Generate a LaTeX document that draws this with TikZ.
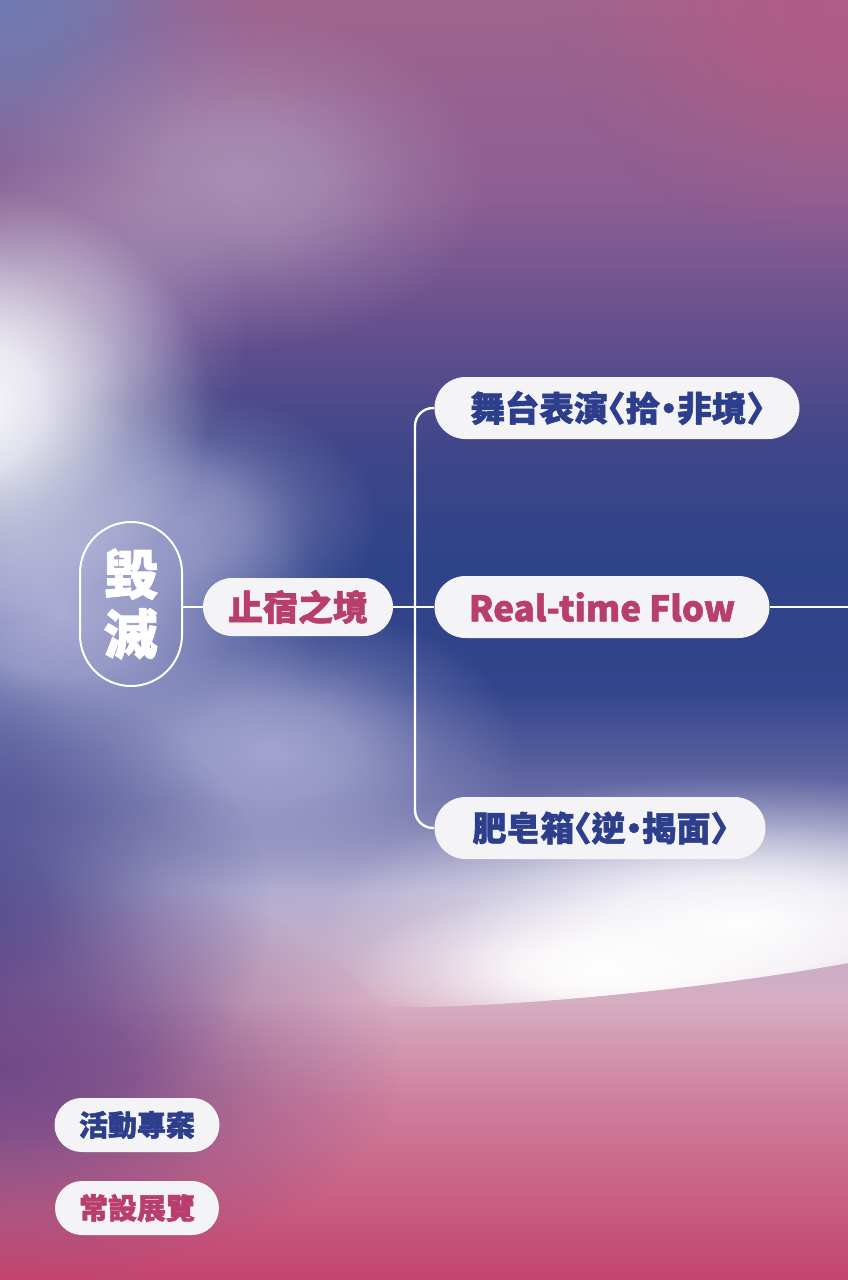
\documentclass[tikz,border=0pt]{standalone}
\usepackage{fontspec}
\newfontfamily\cjk{Noto Sans CJK TC}[RawFeature=+halt, BoldFeatures={FakeBold=1.6}]
\usetikzlibrary{fadings}
\definecolor{navytext}{HTML}{2D3F8C}
\definecolor{rosetext}{HTML}{B83E6E}
\definecolor{pillfill}{HTML}{F4F4F6}
% background tones
\definecolor{bgA}{HTML}{A0648F}
\definecolor{bgB}{HTML}{8C5E92}
\definecolor{bgC}{HTML}{654F8E}
\definecolor{bgD}{HTML}{3E4689}
\definecolor{bgE}{HTML}{2F4389}
\definecolor{bgF}{HTML}{33458C}
\definecolor{bgG}{HTML}{6A6DA6}
\definecolor{bgH}{HTML}{B2AED0}
\definecolor{bgI}{HTML}{D6AEC2}
\definecolor{bgJ}{HTML}{CE7F9C}
\definecolor{bgK}{HTML}{C3446E}
\definecolor{glowpink}{HTML}{B05C86}
\definecolor{glowblue}{HTML}{6E7AB2}
\definecolor{glowlilac}{HTML}{B4A2C2}
\definecolor{glowpale}{HTML}{D8D0E2}
\definecolor{glowlav}{HTML}{ACACD4}
\definecolor{glowdeep}{HTML}{4C4A8E}
\definecolor{glowplum}{HTML}{6C4486}
\pgfdeclareradialshading{blobshade}{\pgfpointorigin}{color(0bp)=(black!0); color(8bp)=(black!20); color(17bp)=(black!70); color(25bp)=(black!100); color(50bp)=(black!100)}
\pgfdeclarefading{blob}{\pgfuseshading{blobshade}}
\newcommand\glow[5]{\fill[fill=#1, path fading=blob, fill opacity=#5] #2 ellipse [x radius=#3pt, y radius=#4pt];}
\newcommand\band[4]{\shade[top color=#1, bottom color=#2] (0,#3) rectangle (848,#4);}
\begin{document}
\begin{tikzpicture}[x=1pt,y=-1pt,
  pillbox/.style={rectangle, rounded corners=#1, fill=pillfill, inner sep=0pt, font=\cjk\bfseries},
  link/.style={draw=white, line width=2.4pt}]
 \useasboundingbox (0,0) rectangle (848,1280);
 \band{bgA}{bgB}{0}{200}
 \band{bgB}{bgC}{200}{330}
 \band{bgC}{bgD}{330}{450}
 \band{bgD}{bgE}{450}{560}
 \band{bgE}{bgF}{560}{690}
 \band{bgF}{bgG}{690}{800}
 \band{bgG}{bgH}{800}{890}
 \band{bgH}{bgI}{890}{1000}
 \band{bgI}{bgJ}{1000}{1100}
 \band{bgJ}{bgK}{1100}{1280}
 \glow{glowpink}{(848,0)}{300}{250}{1}
 \glow{glowblue}{(0,0)}{260}{220}{1}
 \glow{glowlilac}{(240,180)}{250}{170}{.7}
 \glow{glowlav}{(60,610)}{260}{210}{1}
 \glow{glowlav}{(180,520)}{200}{130}{.7}
 \glow{glowpale}{(50,330)}{200}{170}{.5}
 \glow{white}{(-40,405)}{250}{220}{1}
 \glow{glowlav}{(270,750)}{250}{150}{.9}
 \glow{glowdeep}{(-60,910)}{330}{250}{1}
 \glow{glowplum}{(0,1070)}{400}{210}{.9}
 \begin{scope}
  \clip (0,0) -- (848,0) -- (848,963) .. controls (700,990) and (500,1008) .. (400,1007) .. controls (330,1006) and (300,1000) .. (0,1000) -- cycle;
  \glow{white}{(740,925)}{420}{150}{1}
  \glow{white}{(600,970)}{250}{80}{1}
 \end{scope}
 \node[draw=white, line width=2pt, rounded corners=51pt, minimum width=102pt, minimum height=164pt, align=center, text=white, font=\cjk\bfseries\fontsize{54}{60}\selectfont] (huimie) at (131,604) {毀\\滅};
 \node[pillbox=29pt, minimum width=190pt, minimum height=58pt, text=rosetext, font=\cjk\bfseries\fontsize{35}{40}\selectfont] (zhisu) at (298,607) {止宿之境};
 \node[pillbox=31pt, minimum width=365pt, minimum height=62pt, text=navytext, font=\cjk\bfseries\fontsize{34.5}{40}\selectfont] (stage) at (617,408) {舞台表演〈拾·非境〉};
 \node[pillbox=31pt, minimum width=335pt, minimum height=62pt, text=rosetext, font=\cjk\bfseries\fontsize{35}{40}\selectfont] (flow) at (602,607) {Real-time Flow};
 \node[pillbox=31pt, minimum width=331pt, minimum height=62pt, text=navytext, font=\cjk\bfseries\fontsize{34}{40}\selectfont] (soap) at (600,828) {肥皂箱〈逆·揭面〉};
 \node[pillbox=27pt, minimum width=165pt, minimum height=54pt, text=navytext, font=\cjk\bfseries\fontsize{29}{34}\selectfont] (event) at (137,1125) {活動專案};
 \node[pillbox=27pt, minimum width=164pt, minimum height=54pt, text=rosetext, font=\cjk\bfseries\fontsize{29}{34}\selectfont] (expo) at (137,1208) {常設展覽};
 \coordinate (trunk) at (415,607);
 \coordinate (edge) at (848,607);
 \draw[link] (zhisu.west) -- (zhisu.west -| huimie.east);
 \draw[link] (zhisu.east) -- (flow.west);
 \draw[link, rounded corners=18pt] (stage.west) -| (trunk) |- (soap.west);
 \draw[link] (flow.east) -- (edge);
\end{tikzpicture}
\end{document}
